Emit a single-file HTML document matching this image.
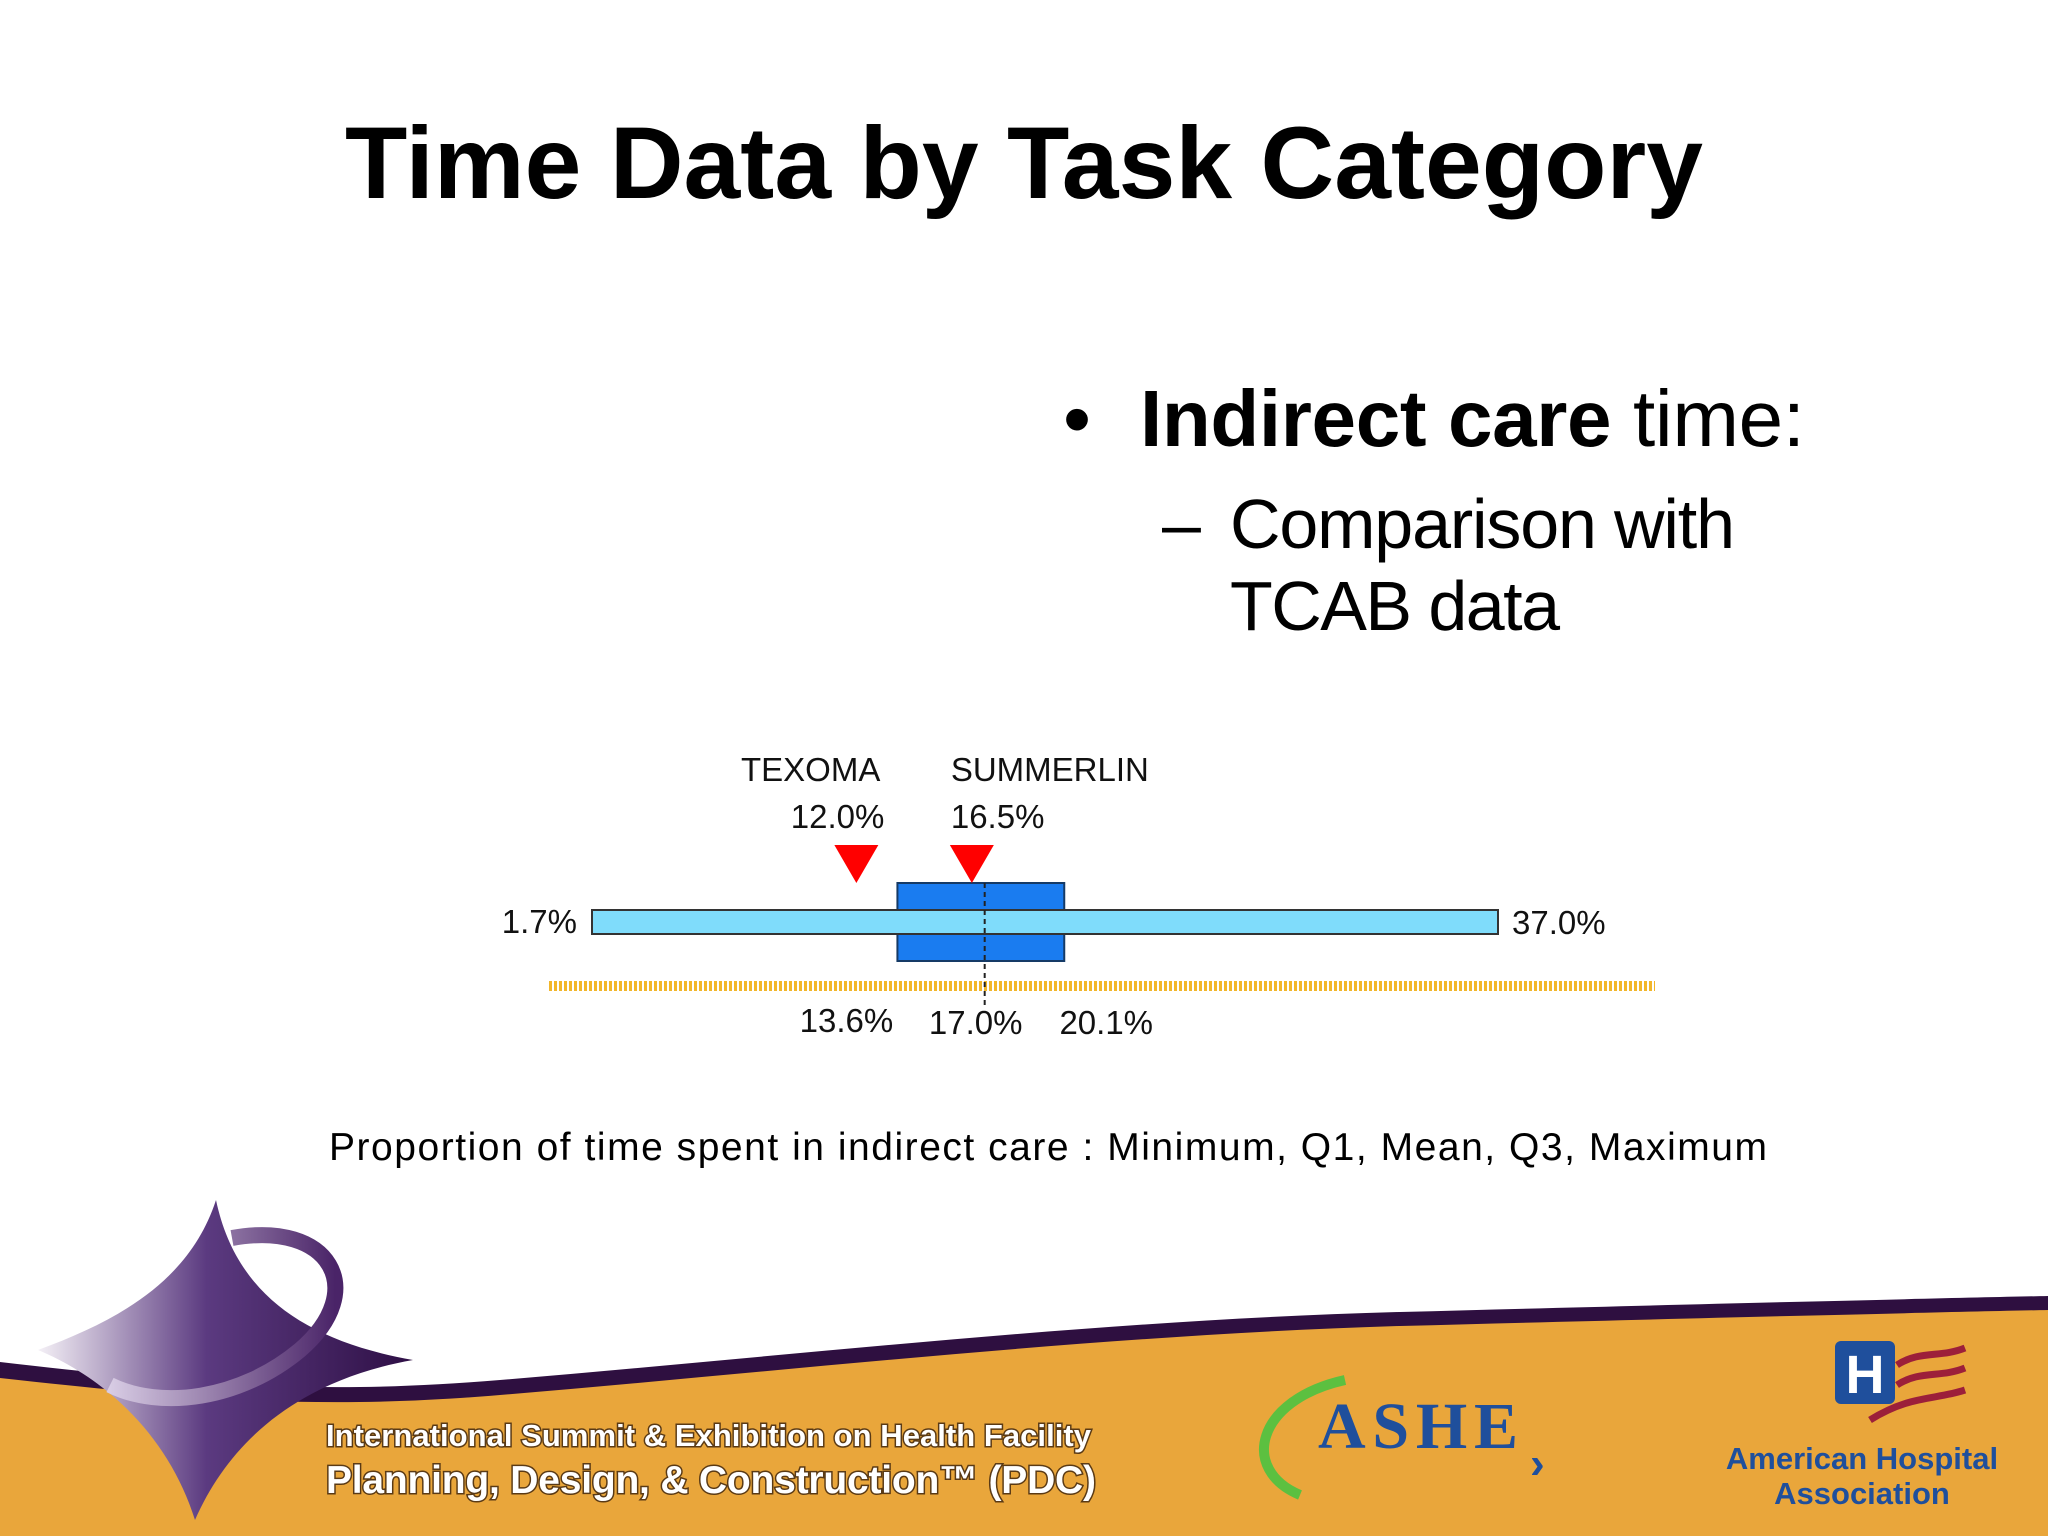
<!DOCTYPE html>
<html><head><meta charset="utf-8"><style>
html,body{margin:0;padding:0;background:#fff}
svg{display:block}
text{font-family:"Liberation Sans",sans-serif}
</style></head><body>
<svg width="2048" height="1536" viewBox="0 0 2048 1536">
<defs>
<linearGradient id="starg" x1="0" x2="1" y1="0" y2="0"><stop offset="0" stop-color="#f4f0f6"/><stop offset="0.45" stop-color="#5b3a80"/><stop offset="1" stop-color="#2e0f45"/></linearGradient>
<linearGradient id="ringg" x1="0" x2="1"><stop offset="0" stop-color="#d8cce4"/><stop offset="1" stop-color="#4a2468"/></linearGradient>
</defs>
<text x="1024" y="198" text-anchor="middle" font-size="102" font-weight="bold" textLength="1358">Time Data by Task Category</text>
<g>
<text x="1063" y="446" font-size="80">•</text>
<text x="1140" y="446" font-size="80" textLength="665"><tspan font-weight="bold">Indirect care</tspan> time:</text>
<text x="1162" y="548" font-size="70">–</text>
<text x="1230" y="548" font-size="70" textLength="505">Comparison with</text>
<text x="1230" y="630" font-size="70" textLength="330">TCAB data</text>
</g>
<g id="chart"></g>
<text x="329" y="1160" font-size="39" textLength="1438">Proportion of time spent in indirect care : Minimum, Q1, Mean, Q3, Maximum</text>
<g>
<path d="M0 1362 C200 1385 320 1395 500 1380 C800 1355 1100 1320 1400 1312 C1700 1304 1950 1298 2048 1296 L2048 1536 L0 1536 Z" fill="#2e0f40"/>
<path d="M0 1378 C200 1400 320 1410 500 1395 C800 1370 1100 1335 1400 1326 C1700 1318 1950 1312 2048 1310 L2048 1536 L0 1536 Z" fill="#e9a63b"/>
<path d="M216 1200 C235 1290 300 1340 413 1360 C300 1380 230 1440 195 1520 C170 1440 110 1380 38 1350 C120 1320 190 1280 216 1200 Z" fill="url(#starg)"/>
<path d="M232 1238 C330 1220 370 1290 300 1350 C240 1400 160 1410 110 1385" fill="none" stroke="url(#ringg)" stroke-width="16"/>
<text x="326" y="1446" font-size="31" font-weight="bold" fill="#fff" textLength="765" style="paint-order:stroke" stroke="#5a3a15" stroke-width="3">International Summit &amp; Exhibition on Health Facility</text>
<text x="326" y="1493" font-size="39" font-weight="bold" fill="#fff" textLength="770" style="paint-order:stroke" stroke="#5a3a15" stroke-width="3">Planning, Design, &amp; Construction™ (PDC)</text>
<path d="M1345 1380 C1255 1400 1240 1470 1300 1495" fill="none" stroke="#5cc040" stroke-width="10"/>
<text x="1318" y="1448" font-size="66" font-weight="bold" fill="#1f4f9c" textLength="200" style="font-family:'Liberation Serif',serif">ASHE</text>
<text x="1530" y="1478" font-size="44" font-weight="bold" fill="#1f4f9c">›</text>
<rect x="1835" y="1341" width="60" height="63" rx="6" fill="#1f4f9c"/>
<text x="1865" y="1393" font-size="54" font-weight="bold" fill="#fff" text-anchor="middle">H</text>
<g fill="none" stroke="#9c1f3a" stroke-width="7">
<path d="M1897 1365 C1920 1350 1940 1358 1965 1348"/>
<path d="M1897 1385 C1920 1370 1940 1378 1965 1368"/>
<path d="M1870 1420 C1910 1395 1935 1400 1965 1390"/>
</g>
<text x="1862" y="1469" font-size="31" font-weight="bold" fill="#1f4f9c" text-anchor="middle">American Hospital</text>
<text x="1862" y="1504" font-size="31" font-weight="bold" fill="#1f4f9c" text-anchor="middle">Association</text>
</g>
<script>
const statNames=["min","q1","mean","q3","max"];
const statValues=[1.7,13.6,17.0,20.1,37.0];
const markerNames=["TEXOMA","SUMMERLIN"];
const markerValues=[12.0,16.5];
const ns="http://www.w3.org/2000/svg";
const g=document.getElementById('chart');
const x=v=>592+(v-1.7)*(1498-592)/(37.0-1.7);
function mk(t,a,p){const e=document.createElementNS(ns,t);for(const k in a)e.setAttribute(k,a[k]);(p||g).appendChild(e);return e;}
const [mn,q1,mean,q3,mx]=statValues;
const ax=mk('line',{x1:549,x2:1655,y1:986,y2:986,stroke:'#f2b62a','stroke-width':10,'stroke-dasharray':'3 2'});


const box=mk('rect',{x:x(q1),y:883,width:x(q3)-x(q1),height:78,fill:'#1a7cf0',stroke:'#153a66','stroke-width':2});


const wh=mk('rect',{x:x(mn),y:910,width:x(mx)-x(mn),height:24,fill:'#7fdcfb',stroke:'#333','stroke-width':2});


const ml=mk('line',{x1:x(mean),x2:x(mean),y1:883,y2:1005,stroke:'#222','stroke-width':2,'stroke-dasharray':'5 4'});


function lab(txt,xx,yy,anchor,name){const t=mk('text',{x:xx,y:yy,'font-size':33,'text-anchor':anchor,fill:'#111'});t.textContent=txt;

}
lab(mn.toFixed(1)+'%',x(mn)-15,933,'end','min-label');
lab(mx.toFixed(1)+'%',x(mx)+14,934,'start','max-label');
lab(q1.toFixed(1)+'%',x(q1)-51,1032,'middle','q1-label');
lab(mean.toFixed(1)+'%',x(mean)-9,1034,'middle','mean-label');
lab(q3.toFixed(1)+'%',x(q3)+42,1034,'middle','q3-label');
markerValues.forEach((v,i)=>{const cx=x(v);
const tri=mk('polygon',{points:`${cx-22},845 ${cx+22},845 ${cx},883`,fill:'#ff0000'});


if(i===0){lab(markerNames[i],x(v)+24,781,'end','marker-name-'+markerNames[i].toLowerCase());lab(v.toFixed(1)+'%',x(v)+28,828,'end','marker-value-'+markerNames[i].toLowerCase());}
else{lab(markerNames[i],x(v)-21,781,'start','marker-name-'+markerNames[i].toLowerCase());lab(v.toFixed(1)+'%',x(v)-21,828,'start','marker-value-'+markerNames[i].toLowerCase());}
});
</script>
</svg>
</body></html>
